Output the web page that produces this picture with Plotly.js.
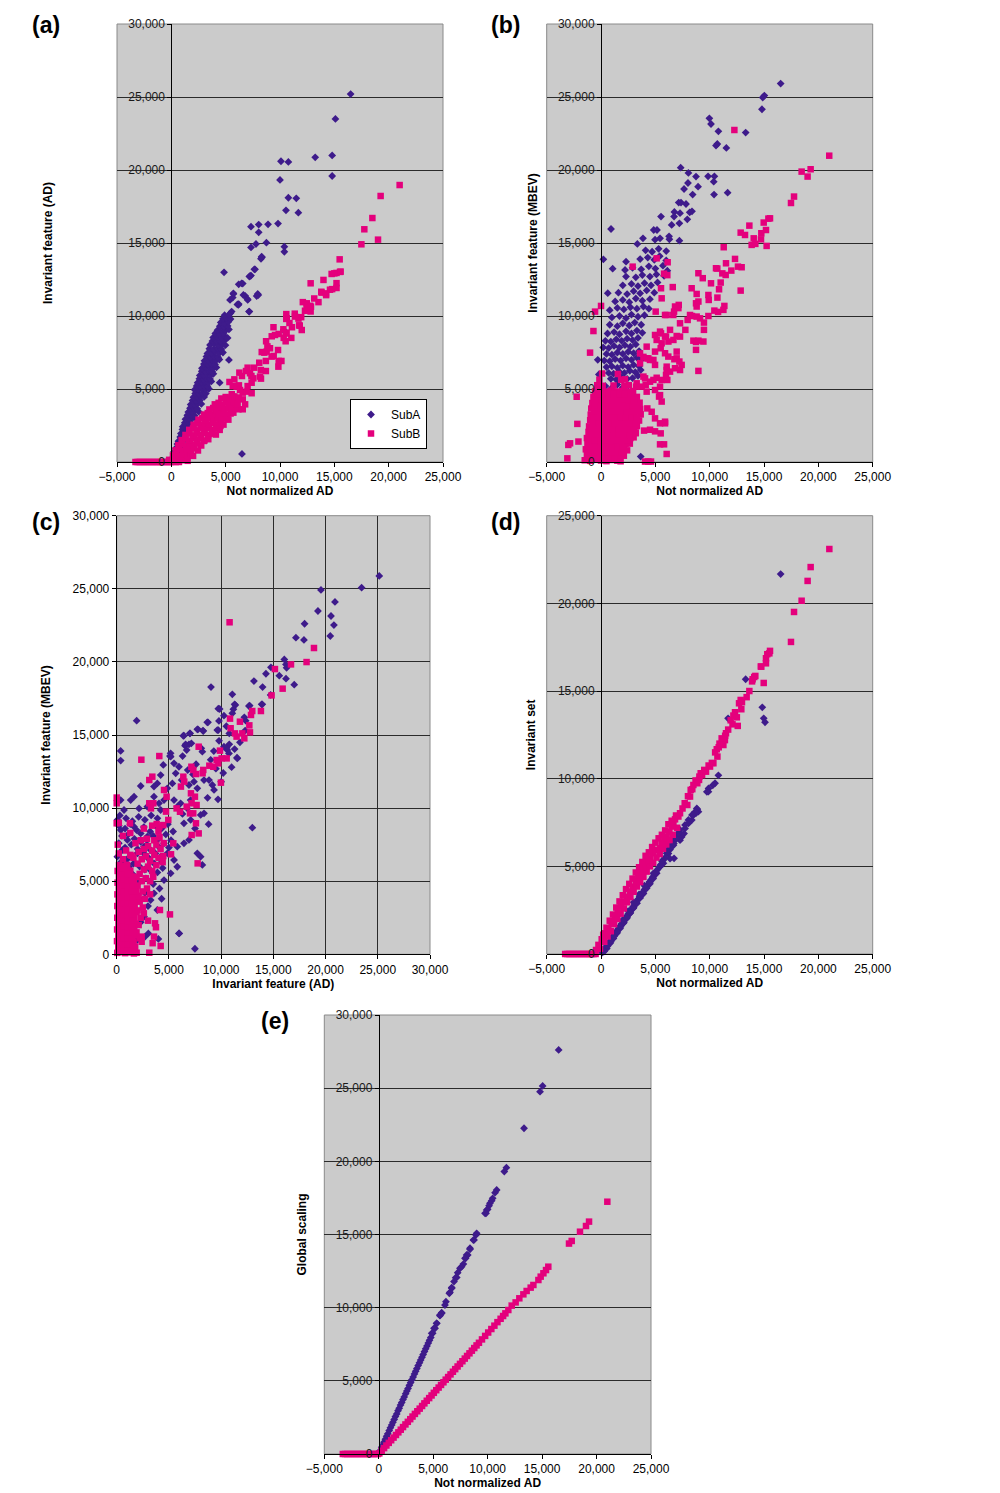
<!DOCTYPE html>
<html>
<head>
<meta charset="utf-8">
<script src="https://cdn.plot.ly/plotly-3.0.1.min.js"></script>
<style>html,body{margin:0;padding:0;background:#fff;}#chart{width:1000px;height:1493px;}</style>
</head>
<body>
<div id="chart"></div>
<script>
// ---------------- DATA ----------------
const seriesNames = ['SubA', 'SubB'];
const panelLabels = ['(a)', '(b)', '(c)', '(d)', '(e)'];
const xTitles = ['Not normalized AD', 'Not normalized AD', 'Invariant feature (AD)', 'Not normalized AD', 'Not normalized AD'];
const yTitles = ['Invariant feature (AD)', 'Invariant feature (MBEV)', 'Invariant feature (MBEV)', 'Invariant set', 'Global scaling'];
const xTicksAD = [-5000, 0, 5000, 10000, 15000, 20000, 25000];
const xTicks30 = [0, 5000, 10000, 15000, 20000, 25000, 30000];
const yTicks30 = [0, 5000, 10000, 15000, 20000, 25000, 30000];
const yTicks25 = [0, 5000, 10000, 15000, 20000, 25000];

// (a) Not normalized AD vs Invariant feature (AD)
const aSubA = [[16500,25200],[15100,23500],[13240,20870],[14800,21000],[14800,19590],[10090,20600],[10770,20550],[10000,19320],[10770,18100],[11500,18060],[11690,17080],[10550,17240],[7330,16120],[8040,16260],[8900,16280],[9820,16330],[8040,15730],[7330,14700],[7790,14930],[8750,15020],[10400,14750],[10400,14400],[8340,14020],[8250,13920],[7640,13200],[7180,12700],[7330,12770],[4850,12990],[6200,12170],[6570,12220],[5710,11510],[5650,11260],[6790,11380],[7020,11150],[7950,11510],[7850,11370],[7180,10300],[6080,10790],[6200,10820],[5450,10200],[5280,9710],[10340,9040],[5300,6990],[4450,5430],[6500,550],
[8310,14065],[7700,13200],[7240,12740],[6470,12240],[5710,11550],[6630,11440],[7030,11100],[8000,11440],[5400,11100],[6170,10760],[5550,10300],[7150,10300],[5190,9950],
[150,300],[380,520],[620,610],[250,700],[420,950],[760,1050],[1020,1180],[560,1230],[650,1420],[930,1500],[1280,1560],[820,1720],[1120,1690],[880,1950],[1180,2020],[1500,2080],[1020,2230],[1350,2260],[1050,2420],[1380,2480],[1700,2550],[1240,2680],[1560,2720],[1850,2650],[1300,2930],[1640,2980],[1980,3040],[2250,2960],[1470,3200],[1820,3220],[2130,3180],[1560,3420],[1880,3460],[2210,3520],[2520,3450],[1720,3680],[2050,3700],[2380,3650],[1780,3930],[2100,3950],[2420,4010],[2760,3980],[1950,4210],[2280,4180],[2620,4230],[2030,4430],[2350,4470],[2680,4520],[3020,4460],[2200,4700],[2520,4680],[2860,4720],[3180,4690],[2150,4950],[2480,4980],[2810,5020],[3150,4960],[3460,5010],[2330,5210],[2660,5190],[3000,5230],[3320,5180],[2420,5430],[2750,5470],[3080,5500],[3420,5440],[3680,5520],[2580,5700],[2920,5680],[3260,5720],[3560,5690],[2620,5930],[2960,5960],[3300,6010],[3640,5950],[3870,6040],[2800,6210],[3140,6190],[3480,6220],[3760,6180],[2820,6420],[3170,6460],[3520,6500],[3860,6440],[4150,6480],[3000,6710],[3350,6690],[3700,6720],[4020,6680],[3050,6930],[3400,6960],[3750,7010],[4100,6950],[4420,7020],[3230,7220],[3600,7190],[3950,7230],[4300,7180],[3320,7430],[3680,7470],[4050,7510],[4400,7450],[4750,7500],[3500,7760],[3880,7720],[4250,7780],[4600,7740],[3560,8020],[3950,8060],[4320,8010],[4700,8070],[4980,8000],[3780,8280],[4150,8300],[4520,8260],[4880,8320],[3850,8520],[4230,8560],[4600,8510],[4960,8580],[5180,8500],[4050,8800],[4420,8780],[4800,8830],[4250,9030],[4620,9060],[5000,9010],[5300,9080],[4460,9300],[4850,9280],[5180,9320],[4550,9560],[4900,9520],[5250,9600],[4750,9820],[5100,9850],[5450,9790],[4900,10050],[5300,10080]];
const aSubB = [[21010,18970],[19260,18220],[18500,16710],[17760,15940],[19020,15230],[17490,14910],[15490,13880],[15520,13020],[15200,12950],[15000,12920],[14750,12880],[15200,12250],[15200,11920],[14800,11840],[14600,11800],[12820,12240],[14000,12470],[13800,11660],[14250,11430],[13150,11200],[13540,10950],[12100,10950],[12450,10620],[12770,10700],[12820,10310],[12300,10360],[11360,10160],[10580,10130],[11950,9920],[10580,9800],[11700,9820],[11820,9340],[10870,9520],[11100,9230],[11760,9360],[9400,9230],[9880,8770],[10520,8800],[10340,8500],[11040,8500],[10520,8270],[9240,8610],[8720,8270],[8840,7920],[8320,7530],[8560,7490],[9820,7670],[9420,7260],[10130,6920],[9880,6920],[8700,6920],[8090,6800],[8240,6300],[8700,6230],[7630,6460],[7020,6460],[6870,6230],[7370,5890],[6500,5890],[6260,6120],[7390,5430],[8250,5710],[5800,5660],[5350,5480],[5650,5200],[6220,5250],[7020,5200],[6570,4750],[6570,4290],[5560,4640],[6020,4410],[6790,3950],[6570,3610],[6170,3610],[5710,3380],[5130,3040],[4520,2470],[4220,2350],[3300,2470],[3760,2010],[2990,1440],[2070,1780],[1560,980],
[15580,13040],[13830,11600],[14230,11550],[12460,10870],[12850,10640],[10620,9840],[11380,9960],[12000,9040],[10310,9090],[9540,8700],[10610,8860],[9080,7790],[8770,7560],[9230,7220],[9850,6530],[7240,6080],[7550,5730],[8160,5850],[6010,5160],[6320,4930],[6930,4820],[7390,4710],[5710,4480],
[-200,150],[200,100],[550,220],[900,120],[1250,200],[1500,80],[150,450],[480,520],[820,430],[1150,560],[1480,470],[1800,540],[2000,420],[400,800],[750,880],[1080,770],[1420,900],[1750,820],[2100,930],[2450,790],[650,1150],[1000,1250],[1350,1120],[1700,1280],[2050,1170],[2400,1260],[2750,1130],[950,1500],[1300,1600],[1650,1470],[2000,1620],[2350,1520],[2700,1640],[3050,1480],[3400,1560],[1300,1850],[1650,1950],[2000,1820],[2350,1980],[2700,1870],[3050,1960],[3400,1830],[3750,1940],[4100,1880],[1650,2200],[2000,2300],[2350,2170],[2700,2330],[3050,2220],[3400,2310],[3750,2180],[4100,2290],[4450,2200],[2050,2550],[2400,2650],[2750,2520],[3100,2680],[3450,2570],[3800,2660],[4150,2530],[4500,2640],[4800,2560],[2500,2900],[2850,3000],[3200,2870],[3550,3030],[3900,2920],[4250,3010],[4600,2880],[4950,2980],[5250,2900],[3000,3250],[3350,3350],[3700,3220],[4050,3380],[4400,3270],[4750,3360],[5100,3230],[5450,3320],[3500,3600],[3850,3700],[4200,3570],[4550,3730],[4900,3620],[5250,3710],[5600,3580],[5900,3680],[4000,3950],[4350,4050],[4700,3920],[5050,4100],[5400,3980],[5750,4080],[6100,3960],[4600,4350],[5000,4450],[5400,4330],[5800,4480],[6200,4380],
[-3300,0],[-3100,0],[-2900,0],[-2700,0],[-2500,0],[-2300,0],[-2100,0],[-1900,0],[-1700,0],[-1500,0],[-1300,0],[-1100,0],[-900,0],[-700,0],[-500,0],[-300,0],[-100,0],[100,0],[400,0],[700,0]];

// (b) Not normalized AD vs Invariant feature (MBEV)
const bSubA = [[16530,25917],[15030,25095],[14880,24960],[14810,24160],[9970,23540],[10120,23150],[10800,22650],[13310,22560],[10700,21780],[10580,21670],[11530,21510],[7330,20160],[8040,19800],[8740,19550],[9850,19570],[10430,19570],[8000,19110],[8930,18860],[10370,19200],[7640,18700],[8430,18320],[10400,18320],[11650,18450],[7150,17770],[7360,17770],[7820,17670],[6750,17130],[7270,17040],[8160,17100],[8370,17170],[7940,16620],[6720,16810],[5520,16810],[6500,16240],[7210,16350],[920,15960],[3860,15320],[4850,15890],[5150,15890],[4970,15230],[5430,15320],[6260,15460],[6290,15250],[7210,15160],[3340,14940],[215,13880],[1070,13240],[2210,13150],[2300,13720],[620,11560],[3650,370],
[900,5700],[1400,5650],[1900,5800],[2400,5700],[2900,5750],[3400,5900],[700,6100],[1150,6050],[1650,6200],[2150,6100],[2650,6250],[3150,6150],[3650,6300],[500,6500],[1000,6550],[1500,6450],[2000,6600],[2500,6500],[3000,6650],[3500,6550],[300,6950],[800,6900],[1300,7050],[1800,6950],[2300,7100],[2800,7000],[3300,7150],[3750,7050],[500,7400],[1000,7350],[1500,7500],[2000,7400],[2500,7550],[3000,7450],[3500,7600],[200,7850],[700,7800],[1200,7950],[1700,7850],[2200,8000],[2700,7900],[3200,8050],[400,8300],[900,8250],[1400,8400],[1900,8300],[2400,8450],[2900,8350],[3400,8500],
[600,8800],[1200,8900],[1700,8750],[2300,8950],[2800,8800],[3300,9000],[3800,8850],[800,9400],[1500,9300],[2000,9500],[2600,9350],[3100,9550],[3700,9400],[1000,9900],[1700,10000],[2300,9850],[2800,10100],[3400,9950],[4000,10050],[800,10400],[1500,10550],[2100,10450],[2700,10600],[3300,10500],[3900,10650],[4400,10500],[1300,11000],[2000,11100],[2600,10950],[3200,11200],[3800,11050],[4500,11150],[1600,11600],[2400,11500],[3000,11700],[3600,11550],[4200,11750],[4900,11600],[2000,12100],[2800,12200],[3400,12050],[4000,12250],[4600,12100],[5200,12300],[2300,12700],[3200,12650],[3800,12800],[4500,12700],[5100,12850],[5800,12750],[2900,13300],[3700,13200],[4400,13400],[5000,13250],[5700,13450],[6100,13100],[3600,13900],[4300,14000],[4900,13850],[5400,14100],[6000,13800],[4100,14500],[4700,14400],[5300,14600],[6000,14450],
[400,5200],[900,5000],[1500,5300],[2000,5100],[2500,5250],[1200,4600],[1800,4800],[2200,4400],[800,4200],[1400,3900],[1900,3600],[1000,3300],[600,2800],[1500,2500],[1100,1900],[-200,6000],[-300,7000]];
const bSubB = [[21000,20980],[19290,20050],[18460,19890],[19010,19550],[17760,18180],[17480,17740],[15550,16690],[15400,16670],[14970,16400],[15180,15890],[13650,16190],[12850,15710],[13250,15550],[14050,15320],[14750,15670],[14720,15250],[13860,14870],[14200,14940],[15240,14800],[11290,14710],[12270,22740],[12330,13910],[11500,13610],[12600,13380],[12940,13340],[10580,13270],[10700,13250],[11160,12920],[11990,13110],[11470,12810],[8960,12930],[9360,12590],[10120,12240],[11010,12290],[10860,11830],[12850,11740],[8340,11900],[5520,11900],[5580,11210],[8800,11510],[9880,11440],[10710,11260],[9910,11100],[8960,10990],[8740,10870],[8800,10650],[11350,10690],[11260,10420],[10430,10370],[10770,10280],[7150,10760],[6720,10300],[6650,10070],[5890,10070],[8190,10070],[8370,10000],[8800,9960],[9110,9840],[9880,10000],[9470,9550],[7970,9730],[7270,9500],[7760,9050],[9470,9050],[4970,8700],[5520,8810],[5120,8360],[5980,8590],[6200,8250],[6660,8360],[6960,8630],[7270,8590],[8500,8310],[8740,8220],[8960,8310],[9420,8250],[8740,7680],[4200,7900],[5490,7790],[4970,7560],[5890,7450],[6960,7560],[7210,6880],[6750,7040],[7420,6650],[8960,6240],[3900,7200],[4200,7100],[4500,6990],[4820,6990],[4970,6650],[6040,6300],[6350,6190],[5980,5960],[5120,5770],[5580,5620],[6100,5620],[4820,5620],[5430,5160],[5340,4480],[5580,4140],[3900,5850],[4110,5280],[3220,5160],[2910,13380],[5800,12900],[6100,12800],[6130,13680],[5120,13950],[6600,11980],[5030,10300],[6040,10070],[6810,10650],[7120,10540],[5430,8930],[6350,9050],[5890,8590],[5580,8130],[6190,7220],[6960,7100],[3590,7440],[4350,7100],[6040,6530],[6810,6420],[7270,6300],[3590,6760],[4050,5730],[4510,5500],[3280,5390],[3740,5160],[4200,4820],[4970,4930],[5430,4580],[2910,4250],[3280,4130],[4260,3670],[4660,3440],[4970,2990],[5430,2650],[5890,2760],[4510,2210],[4970,2100],
[0,10690],[-550,10300],[-700,8970],[-1010,7490],[-2240,4470],[-2180,2610],[-3010,1170],[-2850,1280],[-2080,1400],[-3100,250],[5890,2650],[5490,1960],[5430,1210],[5800,1210],[6040,550],[4050,30],[4350,30],[4600,30],[3960,2150],[3190,1970],
[-1500,120],[-1000,80],[-500,150],[0,100],[500,60],[1000,140],[1500,90],[1800,50],[-1300,480],[-800,420],[-300,500],[200,440],[700,470],[1200,410],[1700,490],[2100,430],[-1400,870],[-900,820],[-400,880],[100,840],[600,860],[1100,810],[1600,890],[2100,840],[2400,800],[-1250,1260],[-750,1220],[-250,1280],[250,1240],[750,1270],[1250,1210],[1750,1290],[2250,1230],[2650,1260],[-1300,1640],[-800,1680],[-300,1620],[200,1690],[700,1630],[1200,1670],[1700,1610],[2200,1680],[2700,1640],[3000,1690],[-1150,2060],[-650,2020],[-150,2080],[350,2040],[850,2070],[1350,2010],[1850,2090],[2350,2030],[2850,2070],[3200,2020],[-1100,2440],[-600,2480],[-100,2420],[400,2490],[900,2430],[1400,2470],[1900,2410],[2400,2480],[2900,2440],[3300,2460],[-1000,2860],[-500,2820],[0,2880],[500,2840],[1000,2870],[1500,2810],[2000,2890],[2500,2830],[3000,2870],[3500,2840],[-950,3240],[-450,3280],[50,3220],[550,3290],[1050,3230],[1550,3270],[2050,3210],[2550,3280],[3050,3240],[3650,3260],[-900,3660],[-400,3620],[100,3680],[600,3640],[1100,3670],[1600,3610],[2100,3690],[2600,3630],[3100,3670],[3600,3640],[-800,4040],[-300,4080],[200,4020],[700,4090],[1200,4030],[1700,4070],[2200,4010],[2700,4080],[3200,4040],[3550,4060],[-700,4460],[-200,4420],[300,4480],[800,4440],[1300,4470],[1800,4410],[2300,4490],[2800,4430],[3300,4460],[-550,4840],[-50,4880],[450,4820],[950,4890],[1450,4830],[1950,4870],[2450,4810],[2950,4860],[-350,5260],[150,5220],[1150,5240],[2150,5210],[2550,5260],[-150,5640],[1850,5630],[2200,5660],[100,6060],[1550,6030],
[-1250,300],[-750,280],[-250,320],[250,270],[750,310],[1250,290],[-1100,650],[-600,680],[-100,630],[400,660],[900,640],[1400,670],[1900,650],[-1000,1050],[-500,1030],[0,1070],[500,1040],[1000,1060],[1500,1030],[2000,1050],[-1050,1450],[-550,1460],[-50,1430],[450,1470],[950,1440],[1450,1460],[1950,1430],[2450,1470],[-900,1850],[-400,1870],[100,1840],[600,1860],[1100,1850],[1600,1880],[2100,1840],[2600,1860],[-850,2250],[-350,2270],[150,2240],[650,2260],[1150,2250],[1650,2270],[2150,2240],[2650,2260],[3050,2250],[-750,2650],[-250,2670],[250,2640],[750,2660],[1250,2650],[1750,2670],[2250,2640],[2750,2660],[3200,2650],[-700,3050],[-200,3070],[300,3040],[800,3060],[1300,3050],[1800,3070],[2300,3040],[2800,3060],[3300,3050],[-650,3450],[-150,3470],[350,3440],[850,3460],[1350,3450],[1850,3470],[2350,3440],[2850,3460],[3350,3450],[-550,3850],[-50,3870],[450,3840],[950,3860],[1450,3850],[1950,3870],[2450,3840],[2950,3860],[3350,3850],[-450,4250],[50,4270],[550,4240],[1050,4260],[1550,4250],[2050,4270],[2550,4240],[3050,4260],[-300,4650],[200,4670],[700,4640],[1200,4660],[1700,4650],[2200,4670],[2700,4640]];

// (c) Invariant feature (AD) vs Invariant feature (MBEV)
const cSubA = [[25140,25880],[23450,25080],[19560,24920],[20900,24100],[19270,23480],[20520,23140],[20800,22520],[17990,22610],[17930,21500],[17160,21660],[20450,21770],[16050,20170],[16210,19830],[16270,19600],[16210,18850],[14770,19630],[14290,19190],[15570,19060],[17000,18440],[13140,18690],[13970,18280],[14740,17740],[9030,18280],[11070,17780],[11360,17050],[11170,16760],[9730,16800],[9790,15960],[12660,16980],[13880,17100],[12220,16210],[12350,15980],[1910,15980],[8670,15870],[7780,15390],[8290,15270],[7010,15110],[6380,14950],[9730,15340],[10780,15110],[10780,14360],[11290,14040],[11520,13450],[10530,14130],[380,13910],[380,13250],[6540,14270],[6920,14360],[5160,13750],[5100,13560],[6310,13560],[12990,8660],[7490,380],[5990,1430],[3030,1430],[3990,1050],
[6440,14955],[7020,15114],[7720,15388],[8260,15300],[8740,15870],[9630,15340],[9860,16780],[10270,16320],[11070,16480],[11290,17100],[12730,17010],[13940,17100],[6600,14360],[7150,14430],[6700,13970],[5170,13520],[4460,12950],[5490,13060],[5960,12830],[5650,12380],[4210,12260],[3890,11690],[3570,11470],[4850,11350],[5330,11690],[6220,11920],[6920,11580],[7400,11810],[7720,11350],[8360,11920],[8840,11920],[9160,11580],[9320,11240],[10270,14200],[10590,13970],[10750,13740],[11550,13400],[8100,14090],[8200,13860],[2300,11510],[1660,10780],[1340,10550],[2140,9980],[2930,10100],[3570,10780],[4050,10330],[4210,9870],[4530,10550],[5490,10550],[5800,10100],[6120,10330],[6760,9980],[7080,10550],[8360,9640],[8040,9530],[7080,9190],[6440,8960],[380,10550],[700,9870],[60,9190],[380,8500],[1020,7820],[540,7130],[60,6680],[1180,5990],[700,5540],[1660,8730],[2300,8270],[2930,8050],[2620,7360],[1980,6910],[3250,7130],[3890,7820],[4530,7590],[4850,6910],[5490,6450],[5800,5990],[5170,5540],[4530,5080],[3570,6220],[4210,6680],[2930,6680],[7720,6910],[8040,6680],[8200,6110],[5800,7360],[6440,7590],[6920,7820],[3570,4170],[3250,3710],[2620,2575],[3890,3030],[1980,980],[5960,1430],[2300,3710],
[300,9500],[900,9300],[1500,9100],[2100,9400],[2700,9200],[3300,9500],[3900,9300],[200,8800],[800,8600],[1300,8900],[1900,8500],[2600,8700],[3200,8400],[3700,8800],[4300,8600],[4900,8900],[5400,8400],[500,8100],[1100,8200],[1700,7900],[2300,7700],[2900,7500],[3500,8100],[4100,7300],[4700,8200],[5200,7800],[200,7600],[800,7300],[1400,7500],[2000,7200],[2600,6900],[3100,6500],[3700,6900],[4300,6300],[5000,7300],[400,6300],[1000,6500],[1600,6200],[2200,6000],[2700,5800],[3300,5700],[3900,5600],[4400,5900],[200,5800],[900,5200],[1500,5500],[2100,4900],[2800,5200],[3500,4800],[4100,4500],[600,4700],[1300,4300],[1900,3900],[2700,4200],[3000,3300],[4300,3800],[1100,3500],[1600,2800],[2300,2200],[800,2500],[1200,1500],[2700,1200],
[9500,12700],[10200,12400],[9000,13300],[7600,13000],[6800,12600],[11800,14500],[12300,15300],[10000,11800],[11000,12800],[9800,14600],[10500,15600],[9300,13900],[7300,12300],[8700,10700],[9700,10600],[6300,9600],[7500,8600],[8800,8900]];
const cSubB = [[10810,22710],[18890,20950],[18180,19990],[16690,19830],[15150,19510],[15890,18170],[14830,17710],[12980,16640],[13810,16640],[12860,16370],[12700,15660],[12760,15180],[10850,16120],[11800,15910],[10910,15460],[11320,15110],[11480,14890],[12030,15110],[12220,14770],[9890,13930],[10050,13400],[10530,13400],[9570,13290],[9730,13060],[9250,12830],[8870,12900],[9980,11740],[7850,14200],[7150,12830],[7340,12610],[7590,12330],[6380,12150],[6470,11810],[6150,11470],[8290,12610],[8230,12380],[7110,11010],[7490,10780],[7170,10330],[7650,10210],[6700,10100],[7330,9640],[7020,9640],[5740,9980],[6060,9750],[7590,8960],[7850,8270],[7180,8160],[7750,6220],[5420,7590],[4080,13560],[3410,12150],[3120,11920],[2360,13310],[4530,11240],[4780,10780],[3120,10330],[3510,10330],[3280,9980],[4720,9760],[4940,9190],[0,10720],[0,10330],[0,8960],[1270,8960],[3830,8910],[4080,8730],[4460,8840],[5200,6840],[4460,6720],[1430,6740],[5100,2730],[4140,3030],[3670,2120],[3760,1850],[3570,1210],[4210,570],[3440,760],[2390,1210],[2390,860],[1910,110],[1750,410],[3120,110],
[50,100],[420,150],[800,80],[1200,130],[1650,60],[150,500],[550,460],[950,540],[1350,480],[1750,520],[30,900],[430,940],[830,870],[1230,920],[1620,880],[160,1300],[560,1340],[960,1270],[1360,1320],[1780,1290],[40,1700],[440,1740],[840,1670],[1240,1720],[1680,1690],[170,2100],[570,2140],[970,2070],[1370,2120],[1820,2090],[50,2500],[450,2540],[850,2470],[1250,2520],[1700,2490],[180,2900],[580,2940],[980,2870],[1380,2920],[1900,2890],[60,3300],[460,3340],[860,3270],[1260,3320],[1720,3290],[190,3700],[590,3740],[990,3670],[1390,3720],[1850,3690],[70,4100],[470,4140],[870,4070],[1270,4120],[1700,4090],[200,4500],[600,4540],[1000,4470],[1400,4520],[1800,4490],[80,4900],[480,4940],[880,4870],[1280,4920],[1650,4890],[210,5300],[610,5340],[1010,5270],[1410,5320],[90,5700],[490,5740],[890,5670],[1300,5720],[220,6100],[620,6050],[1000,6120],
[250,300],[650,320],[1050,280],[1450,310],[300,700],[700,720],[1100,680],[1500,710],[250,1100],[650,1120],[1050,1080],[1450,1110],[300,1500],[700,1520],[1100,1480],[1500,1510],[250,1900],[650,1920],[1050,1880],[1450,1910],[300,2300],[700,2320],[1100,2280],[1500,2310],[250,2700],[650,2720],[1050,2680],[1450,2710],[300,3100],[700,3120],[1100,3080],[1500,3110],[250,3500],[650,3520],[1050,3480],[1450,3510],[300,3900],[700,3920],[1100,3880],[1500,3910],[250,4300],[650,4320],[1050,4280],[1450,4310],[300,4700],[700,4720],[1100,4680],[1500,4710],[250,5100],[650,5120],[1050,5080],[1450,5110],[300,5500],[700,5520],[1100,5480],[350,5900],[750,5920],
[2100,2000],[2300,2500],[2000,3000],[2500,3200],[2200,3600],[2700,3800],[2100,4000],[2500,4300],[2900,4500],[3200,4100],[2000,4700],[2400,5000],[2800,5200],[3200,5000],[3500,5300],[2200,5500],[2600,5800],[3000,6000],[3400,5700],[3800,6100],[2000,6200],[2400,6500],[2800,6700],[3200,6400],[3600,6800],[4000,6600],[4400,6300],[2100,7000],[2600,7200],[3000,7400],[3400,7100],[3800,7500],[4200,7200],[4500,7600],[1800,7600],[2300,7800],[2900,7900],[3600,7800],[4100,8000],[1600,6600],[1900,5300],[1900,4300],[2600,2800],[3000,2300],[1900,1500],[2200,1100],[600,6500],[200,6900],[900,7100],[1300,6800],[100,7500],[600,8100],[1300,8300],[2600,8600],[3400,8800],[4000,8400],[200,9000]];

// (d) Not normalized AD vs Invariant set
const dSubA = [[16530,21670],[13310,15670],[11690,13440],[14840,14070],[14970,13440],[15090,13220],[10800,10190],[10490,9740],[10280,9620],[9880,9260],[9890,9440],[9740,9250],[8860,8250],[8960,8120],[8740,8030],[8810,8300],[8660,8110],[8500,7920],[8350,7640],[8370,7930],[8040,7650],[8040,7450],[7730,7360],[7730,7160],[7640,6870],[7420,6680],[7270,7080],[7270,6490],[7390,6830],[7120,6700],[6960,6770],[6810,6490],[6660,6560],[6660,6200],[6350,5960],[6290,6130],[6200,5730],[6720,5460],[6350,5440],[6040,5740],[5740,5170],[5730,5360],[5430,4980],[5120,4600],[4820,4600],[4810,4410],[4510,4120],[4200,3840],[3890,3460],[3590,3270],[3280,2890],[2970,2610],[2670,2320],[2360,2030],[2050,1750],[1750,1460],[1450,1180],[1140,890],[830,610],[530,320],[220,130],
[100,80],[250,220],[400,350],[550,480],[700,620],[850,760],[1000,900],[1150,1050],[1300,1180],[1450,1320],[1600,1450],[1750,1600],[1900,1730],[2050,1870],[2200,2010],[2350,2150],[2500,2280],[2650,2420],[2800,2560],[2950,2700],[3100,2840],[3250,2980],[3400,3120],[3550,3260],[3700,3390],[3850,3530],[4000,3680],[4150,3820],[4300,3960],[4450,4100],[4600,4240],[4750,4380],[4900,4520],[5050,4680],[5200,4820],[5350,4960],[5500,5100],[300,150],[600,450],[900,700],[1200,1000],[1500,1250],[1800,1550],[2100,1800],[2400,2100],[2700,2350],[3000,2650],[3300,2900],[3600,3200],[3900,3450],[4200,3750],[4500,4000],[4800,4300],[3000,2950],[3500,3400],[4000,3900],[2500,2450],[2000,1950],[5600,5300],[5900,5500],[6100,5900],[6400,6100],[6700,6300],[6900,6600],[7100,6900]];
const dSubB = [[21010,23100],[19290,22070],[19010,21280],[18460,20150],[17760,19510],[17480,17800],[15550,17290],[15490,17150],[15180,16870],[15180,16580],[14750,16390],[14970,15460],[14200,15860],[13950,15670],[13650,15000],[12850,14490],[12970,14360],[12910,13960],[12580,13010],[12330,13790],[12180,13600],[11930,13330],[11500,12590],[11420,12450],[11260,11920],[11400,12200],[10830,11790],[10650,11680],[10710,11260],[10340,10880],[10030,10690],[9660,10400],[9170,10310],[9050,10120],[9020,9930],[8860,9740],[8500,9640],[8250,9360],[8190,8980],[7940,8500],[7270,8030],[7120,7840],[6810,7680],[6660,7460],[6500,7270],[6290,6980],[6040,6700],[5830,6500],[5580,6310],[5430,6030],[5060,5940],[4820,5750],[4510,5460],[4290,5270],[4050,4980],[3740,4700],[3430,4420],[3220,4130],[2910,3840],[2670,3560],[2360,3270],[2120,2990],[1840,2700],[1530,2360],[1290,2040],[980,1750],[670,1470],[370,1180],[60,840],[-240,520],[-460,230],
[200,1100],[500,1500],[800,1900],[1100,2250],[1400,2650],[1700,3000],[2000,3350],[2300,3700],[2600,4000],[2900,4300],[3200,4650],[3500,4950],[3800,5250],[4100,5600],[4400,5800],[4700,6100],[5000,6350],[5300,6600],[5600,6800],[5900,7050],[6200,7400],[6500,7600],[6900,7900],[7500,8300],[7700,8600],[8000,9000],[8400,9400],[8700,9900],[9300,10200],[9500,10500],[9900,10750],[10200,10900],[10500,11500],[10900,12000],[11100,12300],[11700,12800],[12100,13100],[12500,13500],[12700,14300],[13400,14650],[13900,15550],[14100,15800],[14700,16400],[15300,17100],
[-100,300],[300,700],[600,1000],[900,1300],[1200,1700],[1500,2000],[1800,2300],[2100,2600],[2400,2950],[2700,3250],[3000,3550],[3300,3850],[3600,4100],[3900,4400],[4200,4700],[4500,5000],[4800,5200],[5100,5500],[5400,5700],[5700,6000],[6000,6250],[6300,6500],[6600,6800],[7000,7200],
[-3300,0],[-3100,0],[-2900,0],[-2700,0],[-2500,0],[-2300,0],[-2100,0],[-1900,0],[-1700,0],[-1500,0],[-1300,0],[-1100,0],[-900,0],[-700,0],[-500,0]];

// (e) Not normalized AD vs Global scaling
const eSubA = [[16520,27610],[15050,25150],[14810,24760],[13340,22260],[11720,19570],[11530,19300],[10830,18040],[10680,17860],[10460,17470],[10370,17310],[10210,17130],[10130,16970],[10000,16720],[9910,16670],[9850,16450],[9760,16450],[8990,15080],[8930,14970],[8750,14630],[8690,14620],[8380,14060],[8380,13990],[8170,13600],[8070,13600],[7980,13370],[7920,13370],[7770,12980],[7610,12800],[7460,12690],[7250,12390],[7160,12070],[7060,12050],[6910,11780],[6700,11370],[6700,11320],[6540,11050],[6480,10980],[6170,10410],[6080,10180],[5780,9610],[5780,9660],[5620,9450],[5620,9500],[5320,8930],[5320,8930],[5170,8590],[5070,8590],[4950,8250],[4860,8246],
[40,70],[150,240],[270,460],[390,640],[480,810],[610,1010],[720,1210],[830,1380],[960,1600],[1070,1790],[1190,1980],[1300,2170],[1420,2360],[1530,2560],[1650,2740],[1770,2960],[1880,3130],[2000,3340],[2110,3520],[2230,3720],[2340,3900],[2470,4120],[2580,4300],[2690,4480],[2810,4690],[2930,4880],[3040,5070],[3160,5260],[3280,5470],[3390,5650],[3500,5840],[3620,6040],[3740,6230],[3850,6420],[3970,6610],[4080,6800],[4200,7000],[4310,7190],[4430,7380],[4550,7580],[4660,7770],[4780,7960]];
const eSubB = [[20990,17240],[19310,15880],[19030,15580],[18480,15190],[17720,14560],[17470,14380],[15570,12800],[15360,12570],[15120,12350],[14870,12120],[14660,11890],[14200,11550],[13950,11370],[13580,11140],[13280,10910],[12910,10640],[12570,10360],[12210,10140],[11900,9840],[11630,9610],
[50,40],[270,220],[490,400],[700,580],[920,760],[1140,940],[1360,1120],[1580,1300],[1800,1480],[2020,1660],[2230,1840],[2450,2020],[2670,2200],[2890,2380],[3100,2560],[3320,2740],[3540,2920],[3760,3100],[3980,3280],[4190,3460],[4410,3640],[4630,3820],[4850,4000],[5060,4180],[5280,4360],[5500,4540],[5720,4720],[5940,4900],[6150,5080],[6370,5260],[6590,5440],[6810,5620],[7020,5800],[7240,5980],[7460,6160],[7680,6340],[7900,6520],[8110,6700],[8330,6880],[8550,7060],[8770,7240],[8980,7420],[9200,7600],[9480,7830],[9770,8070],[10050,8300],[10340,8540],[10620,8770],[10900,9010],[11190,9240],[11420,9430],
[-3300,0],[-3100,0],[-2900,0],[-2700,0],[-2500,0],[-2300,0],[-2100,0],[-1900,0],[-1700,0],[-1500,0],[-1300,0],[-1100,0],[-900,0],[-700,0],[-500,0],[-300,0],[-100,0]];

// ---------------- STYLE ----------------
const FONT = '"Liberation Sans", Arial, Helvetica, sans-serif';
const PURPLE = '#3e1b8b';
const MAGENTA = '#e4007c';
const GRID = '#2b2b2b';
const BORDER = '#8a8a8a';
const W = 1000, H = 1493;
const px = v => v / W;
const py = v => 1 - v / H;

// panel geometry in pixels: [left, right, top, bottom]
const boxes = [[117, 443, 24, 462], [546.7, 872.7, 24, 462], [116.7, 430, 515.7, 954.3], [546.7, 872.7, 515.7, 954], [324.3, 651, 1015, 1454]];
const xRanges = [[-5000, 25000], [-5000, 25000], [0, 30000], [-5000, 25000], [-5000, 25000]];
const yRanges = [[0, 30000], [0, 30000], [0, 30000], [0, 25000], [0, 30000]];
const xTickSets = [xTicksAD, xTicksAD, xTicks30, xTicksAD, xTicksAD];
const yTickSets = [yTicks30, yTicks30, yTicks30, yTicks25, yTicks30];
const yTitleStandoff = [72, 16, 19, 18, 25];
const labelPos = [[46, 25], [505, 25], [46, 522], [505, 522], [275, 1021]];
const dataSets = [[aSubA, aSubB], [bSubA, bSubB], [cSubA, cSubB], [dSubA, dSubB], [eSubA, eSubB]];

const traces = [];
const layout = {
  width: W, height: H, autosize: false,
  margin: {l: 0, r: 0, t: 0, b: 0, pad: 0},
  paper_bgcolor: '#ffffff', plot_bgcolor: '#cbcbcb',
  font: {family: FONT, size: 12, color: '#000'},
  showlegend: true,
  legend: {x: px(427), xanchor: 'right', y: py(449), yanchor: 'bottom', bgcolor: '#ffffff',
           bordercolor: '#000', borderwidth: 1, font: {family: FONT, size: 12, color: '#000'},
           itemwidth: 30, tracegroupgap: 0},
  shapes: [], annotations: [], hovermode: false
};

boxes.forEach((b, i) => {
  const n = i === 0 ? '' : String(i + 1);
  const xa = 'x' + n, ya = 'y' + n;
  const [A, B] = dataSets[i];
  traces.push({type: 'scatter', mode: 'markers', name: seriesNames[0], xaxis: xa, yaxis: ya,
    x: A.map(p => p[0]), y: A.map(p => p[1]), cliponaxis: false, showlegend: i === 0,
    marker: {symbol: 'diamond', size: 6, color: PURPLE, line: {width: 0}}});
  traces.push({type: 'scatter', mode: 'markers', name: seriesNames[1], xaxis: xa, yaxis: ya,
    x: B.map(p => p[0]), y: B.map(p => p[1]), cliponaxis: false, showlegend: i === 0,
    marker: {symbol: 'square', size: 6.5, color: MAGENTA, line: {width: 0}}});

  const xr = xRanges[i];
  const xdom = [px(b[0]), px(b[1])];
  const ydom = [py(b[3]), py(b[2])];
  const free = xr[0] < 0;
  layout['xaxis' + n] = {
    domain: xdom, range: xr, anchor: ya, fixedrange: true,
    tickmode: 'array', tickvals: xTickSets[i], tickformat: ',',
    ticks: 'outside', ticklen: 4, tickcolor: '#000', tickwidth: 1,
    showline: true, linecolor: '#000', linewidth: 1,
    showgrid: !free, gridcolor: GRID, gridwidth: 1, zeroline: false,
    tickfont: {family: FONT, size: 12, color: '#000'},
    title: {text: '<b>' + xTitles[i] + '</b>', font: {family: FONT, size: 12, color: '#000'}, standoff: 3}
  };
  const yax = {
    domain: ydom, range: yRanges[i], fixedrange: true,
    tickmode: 'array', tickvals: yTickSets[i], tickformat: ',',
    ticks: 'outside', ticklen: 4, tickcolor: '#000', tickwidth: 1,
    showline: true, linecolor: '#000', linewidth: 1,
    showgrid: true, gridcolor: GRID, gridwidth: 1, zeroline: false,
    tickfont: {family: FONT, size: 12, color: free ? '#1a1a1a' : '#000'},
    title: {text: '<b>' + yTitles[i] + '</b>', font: {family: FONT, size: 12, color: '#000'}, standoff: yTitleStandoff[i]}
  };
  if (free) {
    yax.anchor = 'free';
    yax.position = xdom[0] + (0 - xr[0]) / (xr[1] - xr[0]) * (xdom[1] - xdom[0]);
  } else {
    yax.anchor = xa;
  }
  layout['yaxis' + n] = yax;

  layout.shapes.push({type: 'rect', xref: xa + ' domain', yref: ya + ' domain', x0: 0, x1: 1, y0: 0, y1: 1,
    line: {color: BORDER, width: 1}, fillcolor: 'rgba(0,0,0,0)', layer: 'below'});
  layout.annotations.push({text: '<b>' + panelLabels[i] + '</b>', xref: 'paper', yref: 'paper',
    x: px(labelPos[i][0]), y: py(labelPos[i][1]), xanchor: 'center', yanchor: 'middle',
    showarrow: false, font: {family: FONT, size: 23, color: '#000'}});
});

Plotly.newPlot('chart', traces, layout, {displayModeBar: false, staticPlot: true});
</script>
</body>
</html>
